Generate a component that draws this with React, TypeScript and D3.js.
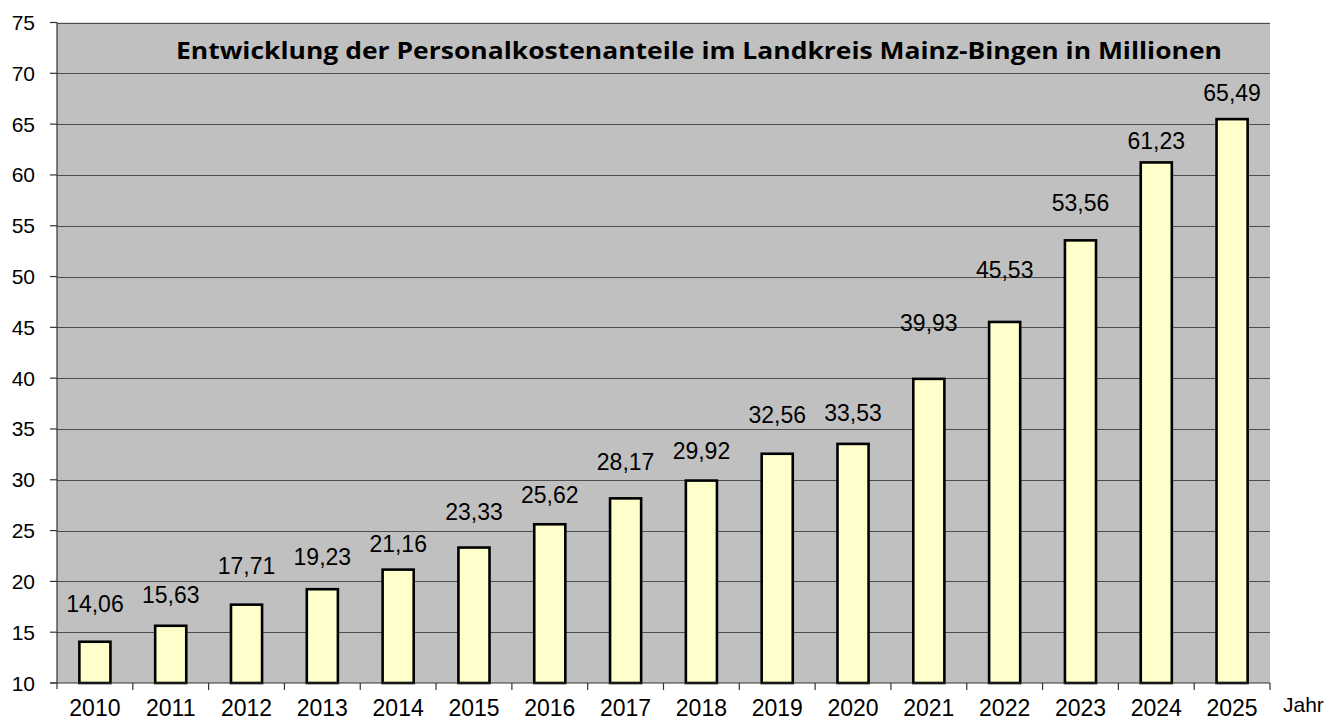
import React from "react";
import * as d3 from "d3";

const years = ["2010","2011","2012","2013","2014","2015","2016","2017","2018","2019","2020","2021","2022","2023","2024","2025"];
const values = [14.06,15.63,17.71,19.23,21.16,23.33,25.62,28.17,29.92,32.56,33.53,39.93,45.53,53.56,61.23,65.49];
const yTicks = [10,15,20,25,30,35,40,45,50,55,60,65,70,75];
const labelLift = [30,23,31,24,18,28,21,28,22,31,23,48,44,29,13,18];
const title = "Entwicklung der Personalkostenanteile im Landkreis Mainz-Bingen in Millionen";
const xAxisTitle = "Jahr";

const fmt = (v: number) => v.toFixed(2).replace(".", ",");

export default function App() {
  const W = 1333, H = 720;
  const left = 57, right = 1270, top = 22.5, bottom = 683;
  const x = d3.scaleBand<string>().domain(years).range([left, right]).paddingInner(0.59).paddingOuter(0.295);
  const band = d3.scaleBand<string>().domain(years).range([left, right]);
  const y = d3.scaleLinear().domain([10, 75]).range([bottom, top]);
  const font = "Arial, 'Liberation Sans', sans-serif";
  return (
    <svg width={W} height={H} style={{ position: "absolute", left: 0, top: 0, background: "#fff" }}>
      <rect x={left} y={top} width={right - left} height={bottom - top} fill="#C0C0C0" />
      {yTicks.filter(t => t > 10).map(t => (
        <line key={"g" + t} x1={left} x2={right} y1={Math.round(y(t)) + 0.5} y2={Math.round(y(t)) + 0.5} stroke="#4d4d4d" strokeWidth={1} />
      ))}
      {years.map((yr, i) => {
        const bx = x(yr)!;
        const by = y(values[i]);
        return (
          <g key={yr}>
            <rect x={bx} y={by} width={x.bandwidth()} height={bottom - by} fill="#FFFFCC" stroke="#000" strokeWidth={2.6} />
            <text x={bx + x.bandwidth() / 2} y={by - labelLift[i]} textAnchor="middle" fontFamily={font} fontSize={23} fill="#000">{fmt(values[i])}</text>
          </g>
        );
      })}
      <line x1={left} x2={left} y1={top} y2={bottom + 6} stroke="#333" strokeWidth={1.2} />
      <line x1={left - 7} x2={right} y1={bottom} y2={bottom} stroke="#333" strokeWidth={1.2} />
      {yTicks.map(t => (
        <g key={"t" + t}>
          <line x1={left - 7} x2={left} y1={y(t)} y2={y(t)} stroke="#333" strokeWidth={1.2} />
          <text x={35} y={y(t) + 7.5} textAnchor="end" fontFamily={font} fontSize={21} fill="#000">{t}</text>
        </g>
      ))}
      {years.map((yr) => (
        <g key={"x" + yr}>
          <line x1={band(yr)! + band.bandwidth()} x2={band(yr)! + band.bandwidth()} y1={bottom} y2={bottom + 7} stroke="#333" strokeWidth={1.2} />
          <text x={band(yr)! + band.bandwidth() / 2} y={716} textAnchor="middle" fontFamily={font} fontSize={23} fill="#000">{yr}</text>
        </g>
      ))}
      <text x={1283} y={712} fontFamily={font} fontSize={21} fill="#000">{xAxisTitle}</text>
      <text x={699} y={59} textAnchor="middle" fontFamily="'Open Sans', sans-serif" fontWeight="bold" fontSize={23} textLength={1046} lengthAdjust="spacingAndGlyphs" fill="#000">{title}</text>
    </svg>
  );
}
